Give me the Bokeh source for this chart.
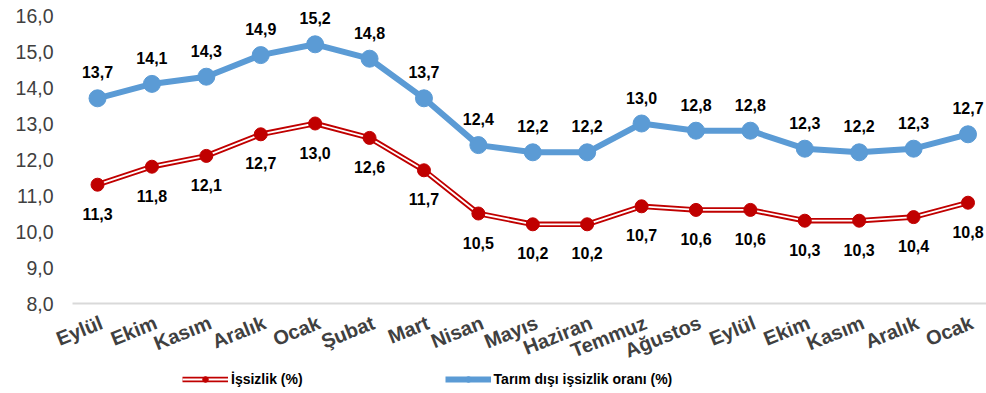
from bokeh.plotting import figure
from bokeh.models import Range1d, ColumnDataSource, Legend, LegendItem, LabelSet
from bokeh.core.properties import value
from bokeh.embed import file_html
from bokeh.resources import INLINE

months = ["Eylül", "Ekim", "Kasım", "Aralık", "Ocak", "Şubat", "Mart", "Nisan", "Mayıs",
          "Haziran", "Temmuz", "Ağustos", "Eylül", "Ekim", "Kasım", "Aralık", "Ocak"]
issizlik = [11.3, 11.8, 12.1, 12.7, 13.0, 12.6, 11.7, 10.5, 10.2, 10.2, 10.7, 10.6, 10.6, 10.3, 10.3, 10.4, 10.8]
tarim_disi = [13.7, 14.1, 14.3, 14.9, 15.2, 14.8, 13.7, 12.4, 12.2, 12.2, 13.0, 12.8, 12.8, 12.3, 12.2, 12.3, 12.7]
y_ticks = [8, 9, 10, 11, 12, 13, 14, 15, 16]
y_base = 8
series_names = ["İşsizlik (%)", "Tarım dışı işsizlik oranı (%)"]

RED = "#C00000"
BLUE = "#5B9BD5"
FONT = "Liberation Sans"

# plot-area geometry (category axis spans AX_START..AX_END)
AX_START, AX_END = -0.46, 16.34
X_START = -1.7835

fmt = lambda v: f"{v:.1f}".replace(".", ",")
xs = list(range(len(months)))
src = ColumnDataSource(dict(
    x=xs, r=issizlik, b=tarim_disi,
    rl=[fmt(v) for v in issizlik], bl=[fmt(v) for v in tarim_disi],
    m=months, base=[y_base] * len(months)))
ysrc = ColumnDataSource(dict(y=y_ticks, t=[fmt(v) for v in y_ticks], x=[X_START] * len(y_ticks)))

p = figure(width=986, height=393, output_backend="svg", toolbar_location=None,
           x_range=Range1d(X_START, AX_END), y_range=Range1d(5.5, 16.4167),
           min_border_left=0, min_border_right=0, min_border_top=0, min_border_bottom=0)
p.outline_line_color = None
p.grid.visible = False
p.axis.visible = False

# value-axis labels
p.text("x", "y", text="t", source=ysrc, x_offset=53, text_align="right", text_baseline="middle",
       text_font=value(FONT), text_font_size="19.5px", text_color="#404040")

# baseline (category axis line)
p.line([AX_START, AX_END], [y_base, y_base], line_color="#D9D9D9", line_width=2)

# category labels
p.text("x", "base", text="m", source=src, x_offset=0, y_offset=8, angle=0.38,
       text_align="right", text_baseline="top",
       text_font=value(FONT), text_font_style="bold", text_font_size="20px",
       text_color="#404040")

# red double line
r1 = p.line("x", "r", source=src, line_color=RED, line_width=5.5)
r2 = p.line("x", "r", source=src, line_color="white", line_width=1.8)
r3 = p.scatter("x", "r", source=src, size=13, fill_color=RED, line_color=RED)

# blue line
b1 = p.line("x", "b", source=src, line_color=BLUE, line_width=6)
b2 = p.scatter("x", "b", source=src, size=17, fill_color=BLUE, line_color=BLUE)

p.add_layout(LabelSet(x="x", y="b", text="bl", source=src, y_offset=26,
                      text_align="center", text_baseline="middle", text_font=value(FONT),
                      text_font_style="bold", text_font_size="16px", text_color="black"))
p.add_layout(LabelSet(x="x", y="r", text="rl", source=src, y_offset=-29,
                      text_align="center", text_baseline="middle", text_font=value(FONT),
                      text_font_style="bold", text_font_size="16px", text_color="black"))

legend = Legend(items=[
    LegendItem(label=series_names[0], renderers=[r1, r2, r3]),
    LegendItem(label=series_names[1], renderers=[b1, b2]),
], orientation="horizontal", location=(182, 6))
legend.glyph_width = 46
legend.glyph_height = 14
legend.spacing = 142
legend.label_standoff = 3
legend.label_text_font = FONT
legend.label_text_font_style = "bold"
legend.label_text_font_size = "14px"
legend.label_text_color = "black"
legend.border_line_color = None
legend.background_fill_alpha = 0
legend.padding = 0
legend.margin = 0
p.add_layout(legend)

open("out.html", "w").write(file_html(p, INLINE))
